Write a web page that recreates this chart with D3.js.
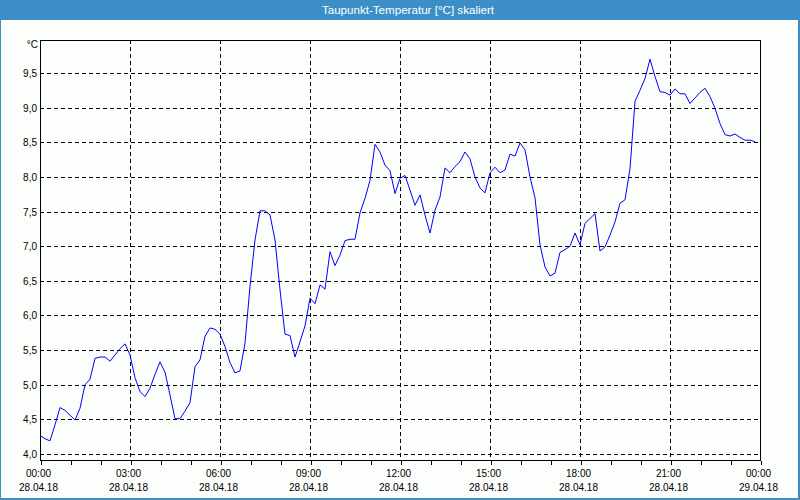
<!DOCTYPE html>
<html><head><meta charset="utf-8">
<script src="https://cdn.jsdelivr.net/npm/d3@7/dist/d3.min.js"></script>
<style>
html,body{margin:0;padding:0;background:#fff;}
svg{display:block;}
text{font-family:"Liberation Sans",Arial,sans-serif;}
</style></head>
<body>
<svg id="c" width="800" height="500"></svg>
<script>
const title = "Taupunkt-Temperatur [°C] skaliert";
const unit = "°C";
const startTime = "2018-04-28T00:00:00";
const endTime = "2018-04-29T00:00:00";
const stepMinutes = 10;
const yTicks = [4.0,4.5,5.0,5.5,6.0,6.5,7.0,7.5,8.0,8.5,9.0,9.5];
const values = [
4.27,4.22,4.19,4.42,4.67,4.63,4.56,4.49,4.66,5.00,
5.08,5.38,5.40,5.40,5.34,5.43,5.52,5.59,5.43,5.10,
4.90,4.83,4.95,5.15,5.33,5.18,4.85,4.51,4.51,4.62,
4.74,5.26,5.36,5.70,5.82,5.80,5.73,5.55,5.32,5.17,
5.20,5.60,6.42,7.09,7.51,7.51,7.45,7.09,6.37,5.73,
5.71,5.40,5.62,5.85,6.25,6.17,6.44,6.38,6.92,6.72,
6.87,7.08,7.10,7.10,7.48,7.69,7.95,8.47,8.36,8.17,
8.09,7.76,7.98,8.02,7.81,7.59,7.74,7.45,7.19,7.52,
7.71,8.13,8.06,8.15,8.22,8.36,8.26,8.00,7.84,7.77,
8.06,8.14,8.06,8.10,8.33,8.30,8.49,8.39,8.00,7.70,
7.02,6.70,6.57,6.61,6.91,6.95,7.00,7.19,7.02,7.33,
7.40,7.47,6.93,6.99,7.16,7.35,7.62,7.67,8.12,9.09,
9.25,9.42,9.70,9.45,9.23,9.22,9.18,9.27,9.20,9.20,
9.06,9.14,9.22,9.28,9.16,8.99,8.77,8.61,8.59,8.62,
8.57,8.53,8.53,8.51];

const W = 800, H = 500;
const svg = d3.select("#c");
const parse = d3.timeParse("%Y-%m-%dT%H:%M:%S");
const t0 = parse(startTime), t1 = parse(endTime);
const data = values.map((v,i)=>({t:d3.timeMinute.offset(t0, i*stepMinutes), v}));

const L = 40, R = 760, T = 40, B = 460;
const x = d3.scaleTime().domain([t0,t1]).range([L,R]);
const y = d3.scaleLinear().domain([4,9.5]).range([454,73]);

// background / window
svg.append("rect").attr("width",W).attr("height",H).attr("fill","#3c8fc6");
svg.append("rect").attr("x",1).attr("y",20).attr("width",W-3).attr("height",H-22).attr("fill","#fbfefb");

svg.append("text").attr("x",408).attr("y",13.5).attr("text-anchor","middle")
  .attr("fill","#fff").attr("font-size","11.6px").text(title);

const g = svg.append("g").attr("shape-rendering","crispEdges");

// horizontal grid
g.selectAll("line.hg").data(yTicks).join("line").attr("class","hg")
  .attr("x1",L).attr("x2",R)
  .attr("y1",d=>Math.round(y(d))+0.5).attr("y2",d=>Math.round(y(d))+0.5)
  .attr("stroke","#000").attr("stroke-dasharray","4,3");

// vertical grid every 3h
const vTicks = d3.timeHour.every(3).range(t0, t1).slice(1);
g.selectAll("line.vg").data(vTicks).join("line").attr("class","vg")
  .attr("x1",d=>Math.round(x(d))+0.5).attr("x2",d=>Math.round(x(d))+0.5)
  .attr("y1",T).attr("y2",B)
  .attr("stroke","#000").attr("stroke-dasharray","4,3");

// x axis: hourly ticks
const xAxis = d3.axisBottom(x).ticks(d3.timeHour.every(1)).tickSize(4).tickFormat("");
const xa = svg.append("g").attr("transform",`translate(0.5,${B+0.5})`).call(xAxis);
xa.select(".domain").remove();
xa.selectAll("line").attr("stroke","#000").attr("shape-rendering","crispEdges");

// x labels every 3h
const lblTicks = d3.timeHour.every(3).range(t0, d3.timeMinute.offset(t1,1));
const fmtT = d3.timeFormat("%H:%M"), fmtD = d3.timeFormat("%d.%m.%y");
svg.selectAll("text.xl").data(lblTicks).join("text").attr("class","xl")
  .attr("x",d=>x(d)-1.5).attr("y",477).attr("text-anchor","middle")
  .attr("font-size","10px").attr("fill","#000").text(d=>fmtT(d));
svg.selectAll("text.xd").data(lblTicks).join("text").attr("class","xd")
  .attr("x",d=>x(d)-1.5).attr("y",491).attr("text-anchor","middle")
  .attr("font-size","10px").attr("fill","#000").text(d=>fmtD(d));

// y labels
const fmtY = v => d3.format(".1f")(v).replace(".",",");
svg.selectAll("text.yl").data(yTicks).join("text").attr("class","yl")
  .attr("x",37).attr("y",d=>y(d)+4).attr("text-anchor","end")
  .attr("font-size","10px").attr("fill","#000").text(fmtY);
svg.append("text").attr("x",38).attr("y",48).attr("text-anchor","end")
  .attr("font-size","10px").attr("fill","#000").text(unit);

// frame
g.append("rect").attr("x",L+0.5).attr("y",T+0.5).attr("width",R-L).attr("height",B-T)
  .attr("fill","none").attr("stroke","#000");

// line
const line = d3.line().x(d=>x(d.t)).y(d=>y(d.v));
svg.append("path").datum(data).attr("d",line).attr("fill","none")
  .attr("stroke","#0000ff").attr("stroke-width",1);
</script>
</body></html>
